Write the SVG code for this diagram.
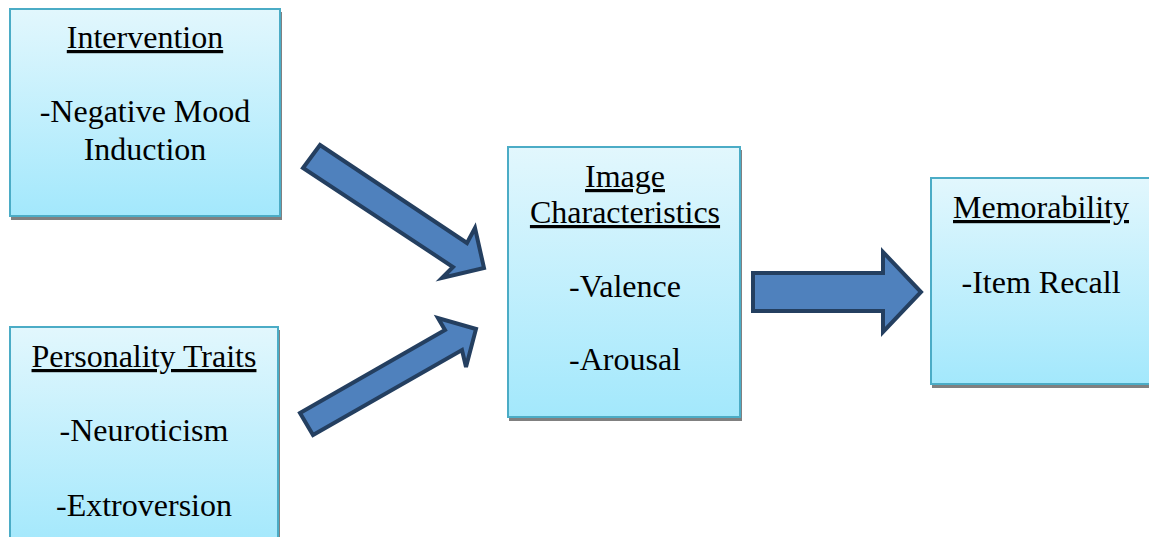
<svg xmlns="http://www.w3.org/2000/svg" width="1149" height="537" viewBox="0 0 1149 537">
<defs>
<linearGradient id="boxGrad" x1="0" y1="0" x2="0" y2="1">
<stop offset="0" stop-color="#E2F7FD"/>
<stop offset="1" stop-color="#A3E8FC"/>
</linearGradient>
</defs>
<style>
.shadow{fill:#808080}
.box{fill:url(#boxGrad);stroke:#4BACC6;stroke-width:2}
.t{font-family:'Liberation Serif','DejaVu Serif',serif;font-size:32px;fill:#000;text-anchor:middle}
.u{text-decoration:underline}
.arrow{fill:#4F81BD;stroke:#243F60;stroke-width:4;stroke-linejoin:miter}
</style>
<rect width="1149" height="537" fill="#fff"/>

<g id="intervention">
<rect class="shadow" x="11" y="12" width="271" height="208"/>
<rect class="box" x="10" y="9" width="270" height="207"/>
<text class="t u" x="145" y="48" font-family="Liberation Serif, DejaVu Serif, serif">Intervention</text>
<text class="t" x="145" y="122" font-family="Liberation Serif, DejaVu Serif, serif">-Negative Mood</text>
<text class="t" x="145" y="160" font-family="Liberation Serif, DejaVu Serif, serif">Induction</text>
</g>

<g id="personality">
<rect class="shadow" x="11" y="330" width="269" height="220"/>
<rect class="box" x="10" y="327" width="268" height="220"/>
<text class="t u" x="144" y="367" font-family="Liberation Serif, DejaVu Serif, serif">Personality Traits</text>
<text class="t" x="144" y="441" font-family="Liberation Serif, DejaVu Serif, serif">-Neuroticism</text>
<text class="t" x="144" y="516" font-family="Liberation Serif, DejaVu Serif, serif">-Extroversion</text>
</g>

<g id="image">
<rect class="shadow" x="509" y="150" width="233" height="271"/>
<rect class="box" x="508" y="147" width="232" height="270"/>
<text class="t u" x="625" y="187" font-family="Liberation Serif, DejaVu Serif, serif">Image</text>
<text class="t u" x="625" y="223" font-family="Liberation Serif, DejaVu Serif, serif">Characteristics</text>
<text class="t" x="625" y="297" font-family="Liberation Serif, DejaVu Serif, serif">-Valence</text>
<text class="t" x="625" y="370" font-family="Liberation Serif, DejaVu Serif, serif">-Arousal</text>
</g>

<g id="memorability">
<rect class="shadow" x="932" y="181" width="230" height="207"/>
<rect class="box" x="931" y="178" width="230" height="206"/>
<text class="t u" x="1041" y="218" font-family="Liberation Serif, DejaVu Serif, serif">Memorability</text>
<text class="t" x="1041" y="293" font-family="Liberation Serif, DejaVu Serif, serif">-Item Recall</text>
</g>

<g id="connectors">
<polygon class="arrow" points="320,145 467,243 475,228 484,268 442,278 453,267 303,168"/>
<polygon class="arrow" points="300,413 445,330 438,318 476,329 466,367 462,350 313,435"/>
<polygon class="arrow" points="753,273 883,273 883,252 921,292 883,332 883,311 753,311"/>
</g>
</svg>
